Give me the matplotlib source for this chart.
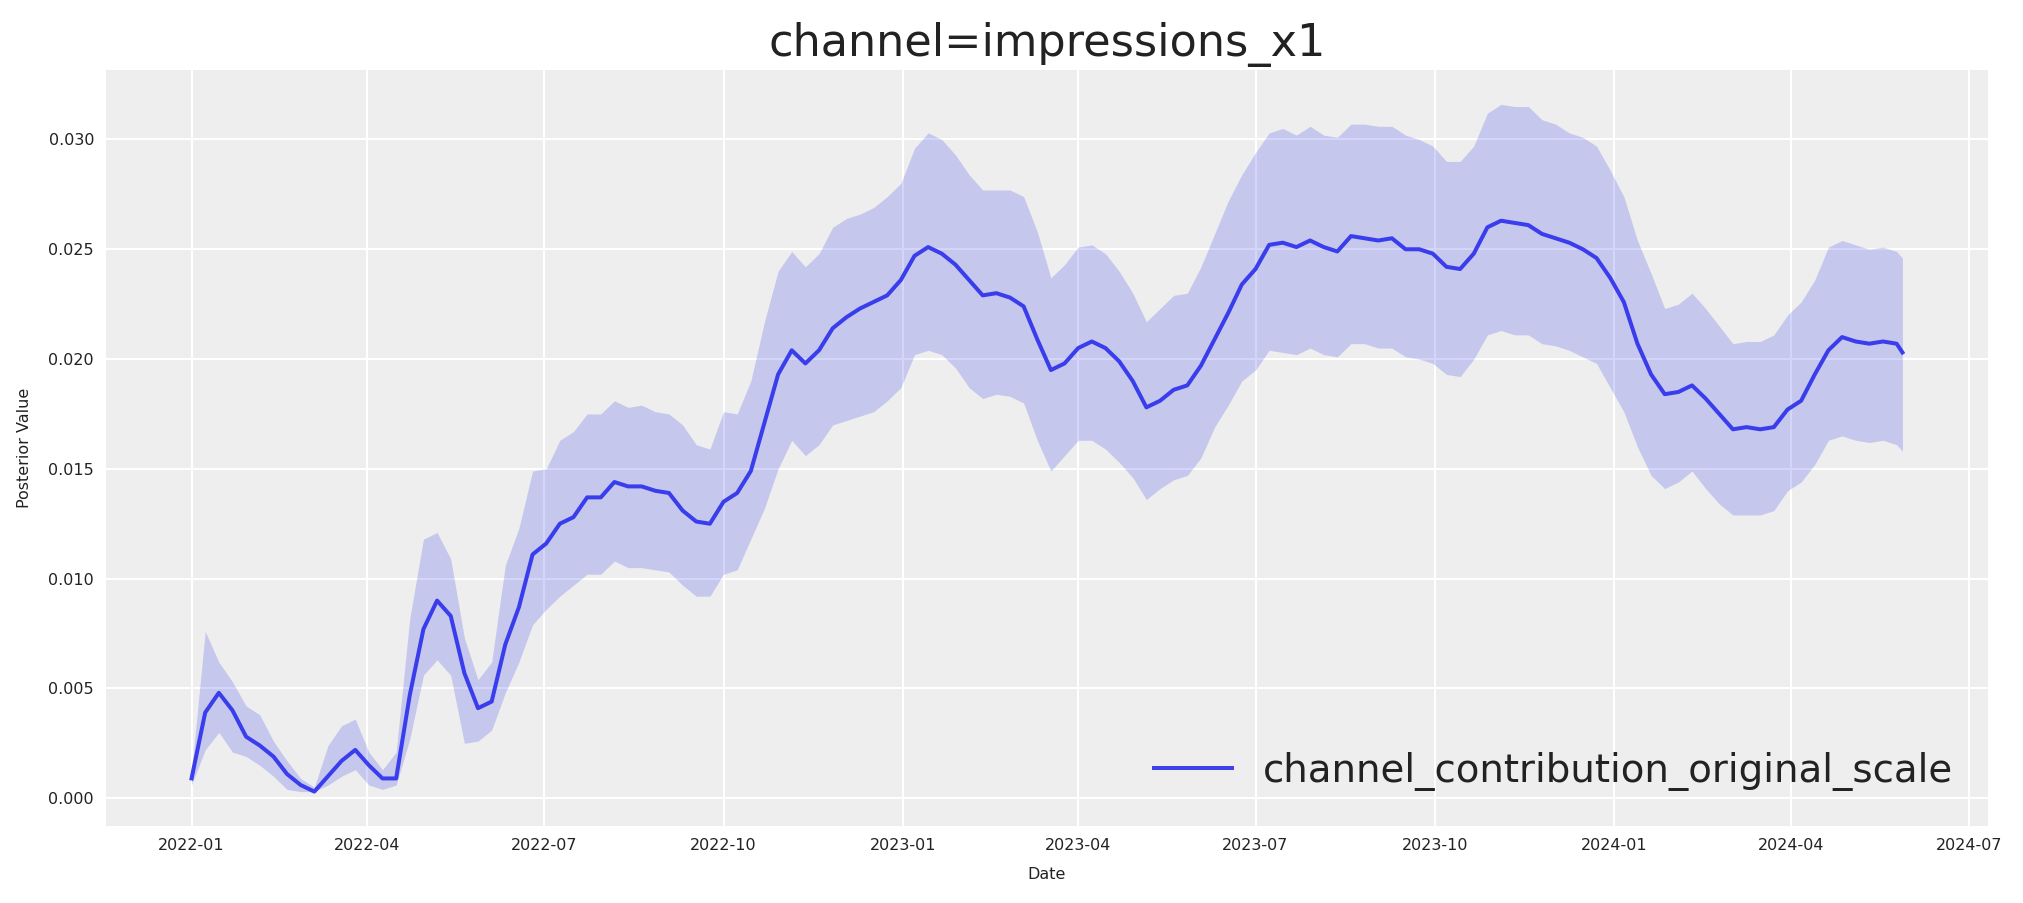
import matplotlib
matplotlib.use("Agg")
import matplotlib.pyplot as plt
import matplotlib.dates as mdates
from matplotlib.ticker import FormatStrFormatter
import numpy as np
import pandas as pd

# weekly dates from 2022-01-01, plus the last observed day
dates = list(pd.date_range("2022-01-01", periods=126, freq="7D")) + [pd.Timestamp("2024-05-28")]

mean_vals = [
    0.0009, 0.0039, 0.0048, 0.0040, 0.0028, 0.0024, 0.0019, 0.0011, 0.0006, 0.0003,
    0.0010, 0.0017, 0.0022, 0.0015, 0.0009, 0.0009, 0.0047, 0.0077, 0.0090, 0.0083,
    0.0057, 0.0041, 0.0044, 0.0070, 0.0087, 0.0111, 0.0116, 0.0125, 0.0128, 0.0137,
    0.0137, 0.0144, 0.0142, 0.0142, 0.0140, 0.0139, 0.0131, 0.0126, 0.0125, 0.0135,
    0.0139, 0.0149, 0.0171, 0.0193, 0.0204, 0.0198, 0.0204, 0.0214, 0.0219, 0.0223,
    0.0226, 0.0229, 0.0236, 0.0247, 0.0251, 0.0248, 0.0243, 0.0236, 0.0229, 0.0230,
    0.0228, 0.0224, 0.0209, 0.0195, 0.0198, 0.0205, 0.0208, 0.0205, 0.0199, 0.0190,
    0.0178, 0.0181, 0.0186, 0.0188, 0.0197, 0.0209, 0.0221, 0.0234, 0.0241, 0.0252,
    0.0253, 0.0251, 0.0254, 0.0251, 0.0249, 0.0256, 0.0255, 0.0254, 0.0255, 0.0250,
    0.0250, 0.0248, 0.0242, 0.0241, 0.0248, 0.0260, 0.0263, 0.0262, 0.0261, 0.0257,
    0.0255, 0.0253, 0.0250, 0.0246, 0.0237, 0.0226, 0.0207, 0.0193, 0.0184, 0.0185,
    0.0188, 0.0182, 0.0175, 0.0168, 0.0169, 0.0168, 0.0169, 0.0177, 0.0181, 0.0193,
    0.0204, 0.0210, 0.0208, 0.0207, 0.0208, 0.0207, 0.0203,
]

hdi_upper = [
    0.0012, 0.0076, 0.0062, 0.0053, 0.0042, 0.0038, 0.0026, 0.0017, 0.0009, 0.0005,
    0.0024, 0.0033, 0.0036, 0.0021, 0.0013, 0.0021, 0.0082, 0.0118, 0.0121, 0.0109,
    0.0073, 0.0054, 0.0062, 0.0106, 0.0123, 0.0149, 0.0150, 0.0163, 0.0167, 0.0175,
    0.0175, 0.0181, 0.0178, 0.0179, 0.0176, 0.0175, 0.0170, 0.0161, 0.0159, 0.0176,
    0.0175, 0.0190, 0.0217, 0.0240, 0.0249, 0.0242, 0.0248, 0.0260, 0.0264, 0.0266,
    0.0269, 0.0274, 0.0280, 0.0296, 0.0303, 0.0300, 0.0293, 0.0284, 0.0277, 0.0277,
    0.0277, 0.0274, 0.0258, 0.0237, 0.0243, 0.0251, 0.0252, 0.0248, 0.0240, 0.0230,
    0.0217, 0.0223, 0.0229, 0.0230, 0.0242, 0.0257, 0.0272, 0.0284, 0.0294, 0.0303,
    0.0305, 0.0302, 0.0306, 0.0302, 0.0301, 0.0307, 0.0307, 0.0306, 0.0306, 0.0302,
    0.0300, 0.0297, 0.0290, 0.0290, 0.0297, 0.0312, 0.0316, 0.0315, 0.0315, 0.0309,
    0.0307, 0.0303, 0.0301, 0.0297, 0.0286, 0.0274, 0.0254, 0.0239, 0.0223, 0.0225,
    0.0230, 0.0223, 0.0215, 0.0207, 0.0208, 0.0208, 0.0211, 0.0220, 0.0226, 0.0236,
    0.0251, 0.0254, 0.0252, 0.0250, 0.0251, 0.0249, 0.0246,
]

hdi_lower = [
    0.0006, 0.0022, 0.0030, 0.0021, 0.0019, 0.0015, 0.0010, 0.0004, 0.0003, 0.0003,
    0.0006, 0.0010, 0.0013, 0.0006, 0.0004, 0.0006, 0.0027, 0.0056, 0.0063, 0.0056,
    0.0025, 0.0026, 0.0031, 0.0048, 0.0062, 0.0079, 0.0086, 0.0092, 0.0097, 0.0102,
    0.0102, 0.0108, 0.0105, 0.0105, 0.0104, 0.0103, 0.0097, 0.0092, 0.0092, 0.0102,
    0.0104, 0.0118, 0.0132, 0.0150, 0.0163, 0.0156, 0.0161, 0.0170, 0.0172, 0.0174,
    0.0176, 0.0181, 0.0187, 0.0202, 0.0204, 0.0202, 0.0196, 0.0187, 0.0182, 0.0184,
    0.0183, 0.0180, 0.0163, 0.0149, 0.0156, 0.0163, 0.0163, 0.0159, 0.0153, 0.0146,
    0.0136, 0.0141, 0.0145, 0.0147, 0.0155, 0.0169, 0.0179, 0.0190, 0.0195, 0.0204,
    0.0203, 0.0202, 0.0205, 0.0202, 0.0201, 0.0207, 0.0207, 0.0205, 0.0205, 0.0201,
    0.0200, 0.0198, 0.0193, 0.0192, 0.0200, 0.0211, 0.0213, 0.0211, 0.0211, 0.0207,
    0.0206, 0.0204, 0.0201, 0.0198, 0.0187, 0.0176, 0.0160, 0.0147, 0.0141, 0.0144,
    0.0149, 0.0141, 0.0134, 0.0129, 0.0129, 0.0129, 0.0131, 0.0140, 0.0144, 0.0152,
    0.0163, 0.0165, 0.0163, 0.0162, 0.0163, 0.0161, 0.0158,
]

blue = "#2a2eec"

fig = plt.figure(figsize=(2023 / 144, 903 / 144), dpi=144)
ax = fig.add_axes([0.0524, 0.0853, 0.9303, 0.8372])
ax.set_facecolor("#eeeeee")
for s in ax.spines.values():
    s.set_visible(False)
ax.grid(True, color="white", linewidth=1.0)
ax.set_axisbelow(True)

ax.fill_between(dates, hdi_lower, hdi_upper, color=blue, alpha=0.2, linewidth=0)
ax.plot(dates, mean_vals, color=blue, alpha=0.9, linewidth=2.0,
        label="channel_contribution_original_scale")

ax.xaxis.set_major_locator(mdates.MonthLocator(bymonth=[1, 4, 7, 10]))
ax.xaxis.set_major_formatter(mdates.DateFormatter("%Y-%m"))
ax.yaxis.set_major_formatter(FormatStrFormatter("%.3f"))
ax.tick_params(length=0, labelsize=8, colors="#222222", pad=6)

ax.set_title("channel=impressions_x1", fontsize=22.3, color="#222222", pad=7)
ax.set_xlabel("Date", fontsize=8, color="#222222", labelpad=7)
ax.set_ylabel("Posterior Value", fontsize=8, color="#222222", labelpad=8)
leg = ax.legend(loc="lower right", fontsize=19.4, frameon=False)
for t in leg.get_texts():
    t.set_color("#222222")

fig.savefig("out.png", dpi=144)
